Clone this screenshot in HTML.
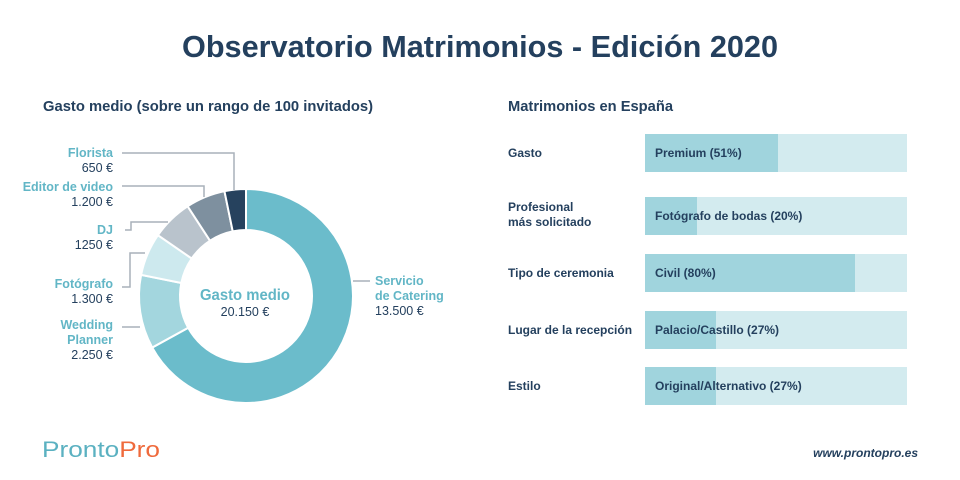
<!DOCTYPE html>
<html><head><meta charset="utf-8"><style>
html,body{margin:0;padding:0;background:#fff;}
svg{display:block;font-family:"Liberation Sans",sans-serif;}
</style></head><body>
<svg id="s" width="960" height="480" viewBox="0 0 960 480" xmlns="http://www.w3.org/2000/svg">
<rect width="960" height="480" fill="#fff"/>
<text x="480" y="57" text-anchor="middle" font-size="31" font-weight="bold" fill="#24405e" textLength="596" lengthAdjust="spacingAndGlyphs">Observatorio Matrimonios - Edición 2020</text>
<text x="43" y="111" font-size="15" font-weight="bold" fill="#24405e" textLength="330" lengthAdjust="spacingAndGlyphs">Gasto medio (sobre un rango de 100 invitados)</text>
<text x="508" y="111" font-size="15" font-weight="bold" fill="#24405e" textLength="165" lengthAdjust="spacingAndGlyphs">Matrimonios en España</text>
<g id="donut"></g>
<g fill="none" stroke="#a9b1ba" stroke-width="1.5">
<polyline points="122,153 234,153 234,190"/>
<polyline points="122,186 204,186 204,197"/>
<polyline points="125,230 131,230 131,222 168,222"/>
<polyline points="122,287 130,287 130,253 145,253"/>
<polyline points="122,327 140,327"/>
<polyline points="353,281 370,281"/>
</g>
<g font-size="12.5" text-anchor="end">
<text x="113" y="157" fill="#62b6c6" font-weight="bold">Florista</text>
<text x="113" y="172" fill="#24405e">650 €</text>
<text x="113" y="191" fill="#62b6c6" font-weight="bold">Editor de video</text>
<text x="113" y="206" fill="#24405e">1.200 €</text>
<text x="113" y="234" fill="#62b6c6" font-weight="bold">DJ</text>
<text x="113" y="249" fill="#24405e">1250 €</text>
<text x="113" y="288" fill="#62b6c6" font-weight="bold">Fotógrafo</text>
<text x="113" y="303" fill="#24405e">1.300 €</text>
<text x="113" y="329" fill="#62b6c6" font-weight="bold">Wedding</text>
<text x="113" y="344" fill="#62b6c6" font-weight="bold">Planner</text>
<text x="113" y="359" fill="#24405e">2.250 €</text>
</g>
<g font-size="12.5">
<text x="375" y="285" fill="#62b6c6" font-weight="bold">Servicio</text>
<text x="375" y="300" fill="#62b6c6" font-weight="bold">de Catering</text>
<text x="375" y="315" fill="#24405e">13.500 €</text>
</g>
<text x="245" y="300" text-anchor="middle" font-size="16" fill="#62b6c6" font-weight="bold" textLength="90" lengthAdjust="spacingAndGlyphs">Gasto medio</text>
<text x="245" y="316" text-anchor="middle" font-size="12.5" fill="#24405e">20.150 €</text>
<g id="bars" font-size="12" font-weight="bold" fill="#24405e"></g>
<text x="42" y="457" font-size="22" fill="#5bb1c1" textLength="118" lengthAdjust="spacingAndGlyphs">Pronto<tspan fill="#ef6a3c">Pro</tspan></text>
<text x="918" y="457" text-anchor="end" font-size="12" font-style="italic" font-weight="bold" fill="#24405e">www.prontopro.es</text>
</svg>
<script>
var ns="http://www.w3.org/2000/svg";
var cx=246,cy=296,R=107,r=66;
var data=[[13500,"#6bbccb"],[2250,"#a3d6de"],[1300,"#cde9ee"],[1250,"#b9c3cc"],[1200,"#7e909f"],[650,"#26425e"]];
var tot=20150,a=0,g=document.getElementById("donut");
function pt(rad,ang){return [cx+rad*Math.sin(ang),cy-rad*Math.cos(ang)];}
data.forEach(function(d){
 var a1=a+d[0]/tot*2*Math.PI,large=(a1-a)>Math.PI?1:0;
 var p1=pt(R,a),p2=pt(R,a1),p3=pt(r,a1),p4=pt(r,a);
 var p=document.createElementNS(ns,"path");
 p.setAttribute("d","M"+p1+"A"+R+","+R+" 0 "+large+" 1 "+p2+"L"+p3+"A"+r+","+r+" 0 "+large+" 0 "+p4+"Z");
 p.setAttribute("fill",d[1]);p.setAttribute("stroke","#fff");p.setAttribute("stroke-width","2");
 g.appendChild(p);a=a1;});
var rows=[["Gasto",null,134,778,"Premium (51%)"],["Profesional","más solicitado",197,697,"Fotógrafo de bodas (20%)"],["Tipo de ceremonia",null,254,855,"Civil (80%)"],["Lugar de la recepción",null,311,716,"Palacio/Castillo (27%)"],["Estilo",null,367,716,"Original/Alternativo (27%)"]];
var b=document.getElementById("bars");
function el(t,at,txt){var e=document.createElementNS(ns,t);for(var k in at)e.setAttribute(k,at[k]);if(txt)e.textContent=txt;b.appendChild(e);}
rows.forEach(function(w){
 var y=w[2],h=38;
 el("rect",{x:645,y:y,width:262,height:h,fill:"#d3ebef"});
 el("rect",{x:645,y:y,width:w[3]-645,height:h,fill:"#a0d4dd"});
 el("text",{x:655,y:y+23},w[4]);
 if(w[1]){el("text",{x:508,y:y+14},w[0]);el("text",{x:508,y:y+29},w[1]);}
 else el("text",{x:508,y:y+23},w[0]);
});
</script>
</body></html>
